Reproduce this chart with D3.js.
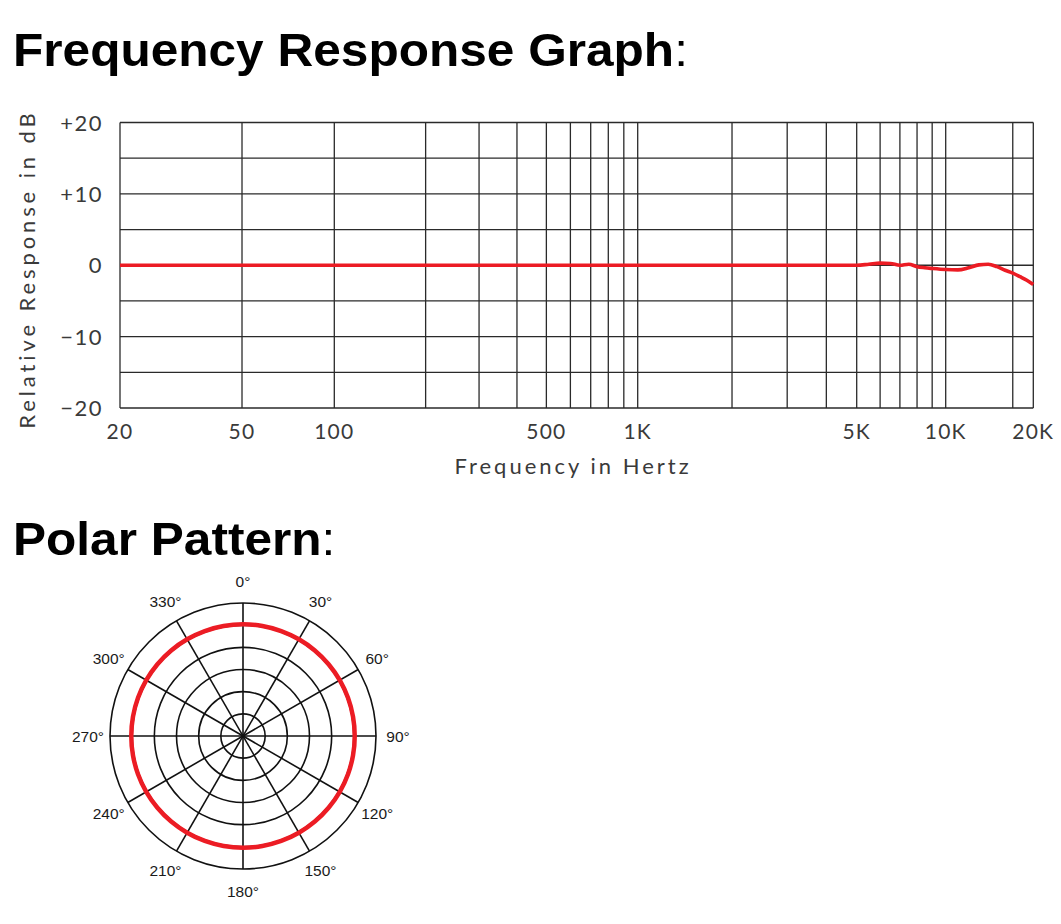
<!DOCTYPE html>
<html>
<head>
<meta charset="utf-8">
<script src="https://cdn.jsdelivr.net/npm/d3@7"></script>
<style>
  html, body { margin: 0; padding: 0; background: #fff; }
  svg { display: block; }
</style>
</head>
<body>
<svg id="chart" width="1061" height="924"></svg>
<script>
// ---------- DATA ----------
const titleFreq = "Frequency Response Graph";
const titlePolar = "Polar Pattern";

// frequency response curve (Hz, dB)
const respFreq = [20, 50, 100, 200, 500, 1000, 2000, 5000, 5500, 6000, 6500, 7000, 7500, 8000, 8500, 9000, 10000, 11000, 12000, 13000, 14000, 15000, 16000, 17000, 18000, 19000, 20000];
const respDb   = [0, 0, 0, 0, 0, 0, 0, 0, 0.15, 0.3, 0.25, 0.0, 0.15, -0.2, -0.35, -0.45, -0.6, -0.65, -0.35, 0.05, 0.15, -0.2, -0.7, -1.1, -1.6, -2.1, -2.7];

// grid lines and tick labels
const freqGridLines = [20, 50, 100, 200, 300, 400, 500, 600, 700, 800, 900, 1000, 2000, 3000, 4000, 5000, 6000, 7000, 8000, 9000, 10000, 17000, 20000];
const freqTickValues = [20, 50, 100, 500, 1000, 5000, 10000, 20000];
const freqTickLabels = ["20", "50", "100", "500", "1K", "5K", "10K", "20K"];
const dbGridLines = [-20, -15, -10, -5, 0, 5, 10, 15, 20];
const dbTickValues = [20, 10, 0, -10, -20];
const dbTickLabels = ["+20", "+10", "0", "\u221210", "\u221220"];
const xAxisTitle = "Frequency in Hertz";
const yAxisTitle = "Relative Response in dB";

// polar pattern
const polarLabelAngles = [0, 30, 60, 90, 120, 150, 180, 210, 240, 270, 300, 330];
const polarRings = [-25, -20, -15, -10, -5, 0];
const polarAngles = [0, 10, 20, 30, 40, 50, 60, 70, 80, 90, 100, 110, 120, 130, 140, 150, 160, 170, 180, 190, 200, 210, 220, 230, 240, 250, 260, 270, 280, 290, 300, 310, 320, 330, 340, 350];
const polarDb = [-4.8, -4.8, -4.8, -4.8, -4.8, -4.8, -4.8, -4.8, -4.8, -4.8, -4.8, -4.8, -4.8, -4.8, -4.8, -4.8, -4.8, -4.8, -4.8, -4.8, -4.8, -4.8, -4.8, -4.8, -4.8, -4.8, -4.8, -4.8, -4.8, -4.8, -4.8, -4.8, -4.8, -4.8, -4.8, -4.8];

// ---------- DRAW ----------
const svg = d3.select("#chart");
svg.append("rect").attr("width", 1061).attr("height", 924).attr("fill", "#fff");

const RED = "#ec1c24";
const GRID = "#2a2a2a";
const AXFONT = "Lato, 'DejaVu Sans', sans-serif";

// titles
function title(txt, x, y) {
  const t = svg.append("text")
    .attr("transform", `translate(${x},${y}) scale(1.055,1)`)
    .attr("font-family", "'Liberation Sans', Arial, sans-serif")
    .attr("font-size", 47).attr("fill", "#000");
  t.append("tspan").attr("font-weight", "bold").text(txt);
  t.append("tspan").attr("font-weight", "normal").text(":");
}
title(titleFreq, 13, 66);
title(titlePolar, 13, 555);

// frequency chart scales (axis follows the original chart's drawn grid)
const x = d3.scaleLog()
  .domain([20, 100, 1000, 5000, 10000, 20000])
  .range([120, 334.3, 637.7, 856.7, 945.7, 1033.3]);
const y = d3.scaleLinear().domain([-20, 20]).range([408, 122.5]);

const g = svg.append("g");
g.selectAll("line.h").data(dbGridLines).join("line")
  .attr("x1", x(20)).attr("x2", x(20000))
  .attr("y1", d => y(d)).attr("y2", d => y(d))
  .attr("stroke", GRID).attr("stroke-width", 1.3);
g.selectAll("line.v").data(freqGridLines).join("line")
  .attr("x1", d => x(d)).attr("x2", d => x(d))
  .attr("y1", y(20)).attr("y2", y(-20))
  .attr("stroke", GRID).attr("stroke-width", 1.3);

// tick labels
g.selectAll("text.xl").data(freqTickValues).join("text")
  .attr("x", d => x(d)).attr("y", 439)
  .attr("text-anchor", "middle")
  .attr("font-family", AXFONT).attr("font-size", 21)
  .attr("letter-spacing", 1.2).attr("fill", "#3a3a3a")
  .text((d, i) => freqTickLabels[i]);
g.selectAll("text.yl").data(dbTickValues).join("text")
  .attr("x", 103).attr("y", d => y(d) + 8)
  .attr("text-anchor", "end")
  .attr("font-family", AXFONT).attr("font-size", 22)
  .attr("letter-spacing", 1.5).attr("fill", "#3a3a3a")
  .text((d, i) => dbTickLabels[i]);

// axis titles
g.append("text").attr("x", 573).attr("y", 474)
  .attr("text-anchor", "middle")
  .attr("font-family", AXFONT).attr("font-size", 22)
  .attr("letter-spacing", 3).attr("fill", "#3a3a3a")
  .text(xAxisTitle);
g.append("text").attr("transform", "translate(35,269) rotate(-90)")
  .attr("text-anchor", "middle")
  .attr("font-family", AXFONT).attr("font-size", 22)
  .attr("letter-spacing", 3.9).attr("fill", "#3a3a3a")
  .text(yAxisTitle);

// response curve
const respData = respFreq.map((f, i) => [f, respDb[i]]);
g.append("path").datum(respData)
  .attr("d", d3.line().x(d => x(d[0])).y(d => y(d[1])).curve(d3.curveMonotoneX))
  .attr("fill", "none").attr("stroke", RED).attr("stroke-width", 3.6)
  .attr("stroke-linejoin", "round").attr("stroke-linecap", "butt");

// ---------- polar ----------
const cx = 243, cy = 736;
const r = d3.scaleLinear().domain([-30, 0]).range([0, 133]);
const pg = svg.append("g").attr("transform", `translate(${cx},${cy})`);

pg.selectAll("circle.ring").data(polarRings).join("circle")
  .attr("r", d => r(d)).attr("fill", "none")
  .attr("stroke", "#111").attr("stroke-width", 1.6);

const spokeAngles = polarLabelAngles.filter(a => a < 180);
pg.selectAll("line.spoke").data(spokeAngles).join("line")
  .attr("x1", a => r(0) * Math.sin(a * Math.PI / 180))
  .attr("y1", a => -r(0) * Math.cos(a * Math.PI / 180))
  .attr("x2", a => -r(0) * Math.sin(a * Math.PI / 180))
  .attr("y2", a => r(0) * Math.cos(a * Math.PI / 180))
  .attr("stroke", "#111").attr("stroke-width", 1.6);

const polarData = polarAngles.map((a, i) => [a * Math.PI / 180, r(polarDb[i])]);
pg.append("path").datum(polarData)
  .attr("d", d3.lineRadial().angle(d => d[0]).radius(d => d[1]).curve(d3.curveCatmullRomClosed.alpha(0.5)))
  .attr("fill", "none").attr("stroke", RED).attr("stroke-width", 4.5);

const labR = r(0) + 22;
pg.selectAll("text.pl").data(polarLabelAngles).join("text")
  .attr("x", a => labR * Math.sin(a * Math.PI / 180))
  .attr("y", a => -labR * Math.cos(a * Math.PI / 180))
  .attr("dy", "0.36em")
  .attr("text-anchor", "middle")
  .attr("font-family", "'Liberation Sans', Arial, sans-serif")
  .attr("font-size", 15.5).attr("fill", "#1a1a1a")
  .text(a => a + "\u00b0");
</script>
</body>
</html>
